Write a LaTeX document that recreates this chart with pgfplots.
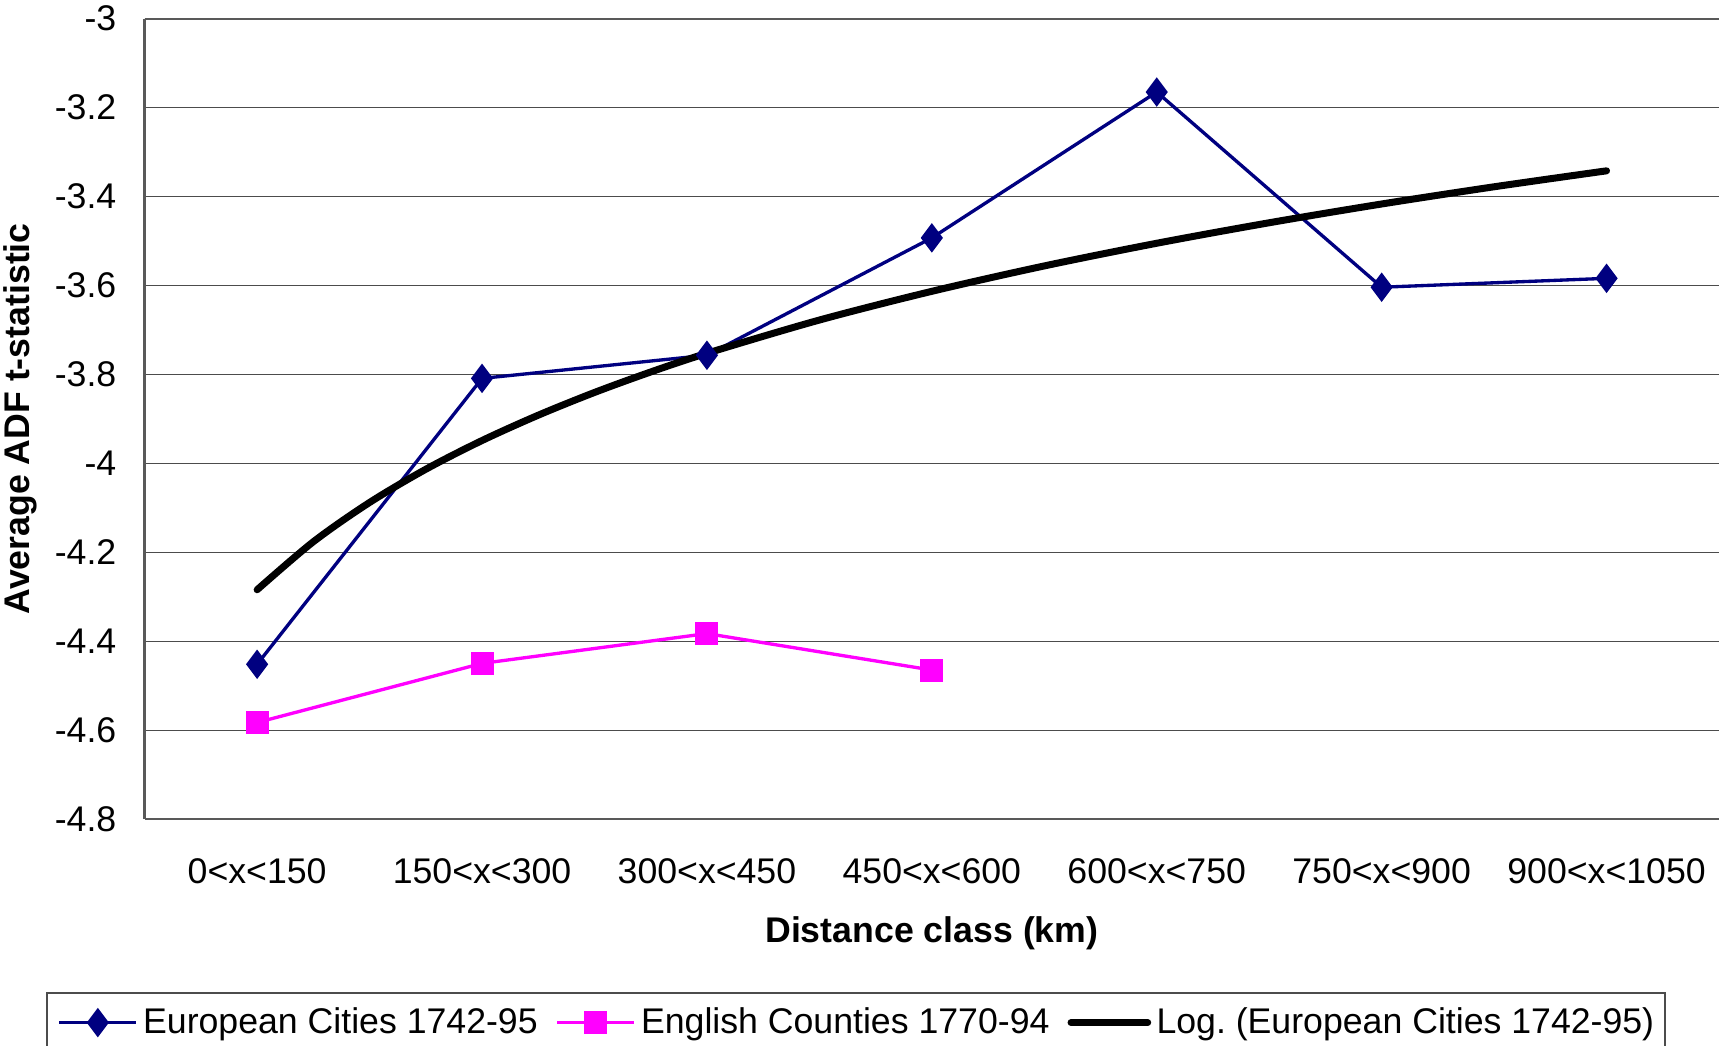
\documentclass[border=0pt]{standalone}
\usepackage{fontspec}
\setmainfont{Liberation Sans}
\usepackage{pgfplots}
\pgfplotsset{compat=1.18}
\frenchspacing
\definecolor{navy}{RGB}{0,0,128}
\definecolor{mag}{RGB}{255,0,255}
\newcommand{\fs}{\fontsize{10.7pt}{12.8pt}\selectfont}
\begin{document}
\begin{tikzpicture}
\begin{axis}[
  scale only axis,
  width=472.3pt, height=240.1pt,
  xmin=-0.5, xmax=6.5,
  ymin=-4.8, ymax=-3,
  axis lines*=left,
  axis line style={black!65, line width=0.7pt},
  xtick={0,1,2,3,4,5,6},
  xticklabels={0<x<150,150<x<300,300<x<450,450<x<600,600<x<750,750<x<900,900<x<1050},
  ytick={-4.8,-4.6,-4.4,-4.2,-4,-3.8,-3.6,-3.4,-3.2,-3},
  major tick length=0pt,
  /pgf/number format/assume math mode=true,
  ymajorgrids,
  grid style={black!70, line width=0.35pt},
  tick label style={font=\fs},
  xticklabel style={anchor=center, inner sep=0pt, yshift=-15.7pt},
  yticklabel style={anchor=east, inner sep=0pt, xshift=-8.3pt},
  xlabel={Distance class (km)},
  ylabel={Average ADF t-statistic},
  xlabel style={font=\fs\bfseries, at={(axis description cs:0.5,0)}, anchor=center, yshift=-34.2pt},
  ylabel style={font=\fs\bfseries, at={(axis description cs:0,0.5)}, anchor=center, yshift=37.2pt},
  legend style={at={(axis description cs:0,0)}, anchor=north west, xshift=-29.6pt, yshift=-51.9pt,
    draw=black!70, line width=0.5pt, inner xsep=3.3pt, inner ysep=4.3pt, font=\fs,
    nodes={inner sep=0pt},
    /tikz/every odd column/.append style={column sep=1.6pt},
    /tikz/every even column/.append style={column sep=5.4pt}},
  legend columns=3,
  legend cell align=left,
  legend image code/.code={\draw[mark repeat=2,mark phase=2,#1] plot coordinates {(0pt,0pt) (11.5pt,0pt) (23pt,0pt)};},
]
\addplot[navy, line width=1pt, mark=diamond*, mark size=3.6pt, mark options={solid, fill=navy}] coordinates {
 (0,-4.452) (1,-3.809) (2,-3.757) (3,-3.493) (4,-3.165) (5,-3.604) (6,-3.584)};
\addlegendentry{European Cities 1742-95}
\addplot[mag, line width=1pt, mark=square*, mark size=2.95pt, mark options={solid, fill=mag}] coordinates {
 (0,-4.583) (1,-4.450) (2,-4.383) (3,-4.465)};
\addlegendentry{English Counties 1770-94}
\addplot[black, line width=2.1pt, line cap=round, smooth] coordinates {
 (0,-4.2844) (0.25,-4.1764) (0.5,-4.0881) (0.75,-4.0134) (1,-3.9488) (1.25,-3.8918)
 (1.5,-3.8407) (1.75,-3.7946) (2,-3.7525) (2.5,-3.6778) (3,-3.6132) (3.5,-3.5561)
 (4,-3.5051) (4.5,-3.4590) (5,-3.4168) (5.5,-3.3781) (6,-3.3422)};
\addlegendentry{Log. (European Cities 1742-95)}
\draw[black!65, line width=0.7pt] (axis cs:-0.5,-3) -- (axis cs:6.5,-3);
\end{axis}
\pgfresetboundingbox
\useasboundingbox (-43.4pt,-67.8pt) rectangle (472.3pt,245.7pt);
\end{tikzpicture}
\end{document}
